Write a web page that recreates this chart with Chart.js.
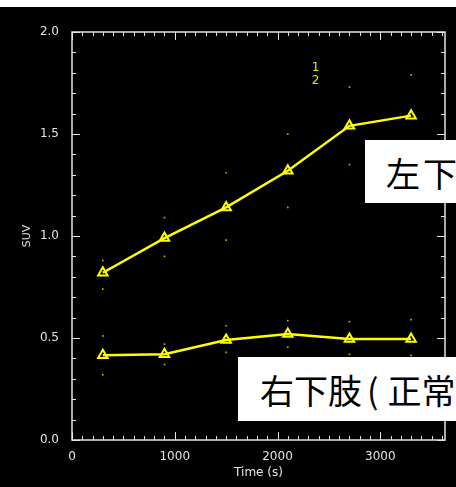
<!DOCTYPE html>
<html>
<head>
<meta charset="utf-8">
<script src="https://cdn.jsdelivr.net/npm/chart.js@4"></script>
<style>
  html, body { margin: 0; padding: 0; overflow: hidden; background: #fff; }
  #wrap { position: relative; width: 456px; height: 487px; }
  .note {
    position: absolute; background: #fff; color: #000;
    font-family: "Noto Sans CJK JP", sans-serif; font-size: 34px;
    white-space: nowrap; overflow: hidden; line-height: 1;
  }
</style>
</head>
<body>
<div id="wrap">
  <canvas id="suv-chart" width="456" height="487"></canvas>
  <div class="note" style="left:365px; top:140px; width:91px; height:63px;">
    <span style="position:absolute; left:21px; top:16px; letter-spacing:3px;">左下肢</span>
  </div>
  <div class="note" style="left:238px; top:357px; width:218px; height:64px;">
    <span style="position:absolute; left:22px; top:16px;">右下肢<span style="margin:0 9px 0 5px;">(</span>正常)</span>
  </div>
</div>
<script>
// Time points (s)
const times = [300, 900, 1500, 2100, 2700, 3300];

// Curve 1 (upper) and its error marks
const curve1 = [0.82, 0.99, 1.14, 1.32, 1.54, 1.59];
const curve1Hi = [0.88, 1.09, 1.31, 1.50, 1.73, 1.79];
const curve1Lo = [0.74, 0.90, 0.98, 1.14, 1.35, 1.39];

// Curve 2 (lower) and its error marks
const curve2 = [0.415, 0.42, 0.49, 0.52, 0.495, 0.495];
const curve2Hi = [0.51, 0.47, 0.56, 0.585, 0.58, 0.59];
const curve2Lo = [0.32, 0.37, 0.43, 0.455, 0.42, 0.415];

// Axis settings
const xTickLabels = [0, 1000, 2000, 3000];
const xMax = 3630;
const yTickLabels = [0, 0.5, 1.0, 1.5, 2.0];

// Small legend numbers
const legendText = ["1", "2"];
const legendX = 2370;
const legendY = [1.825, 1.76];

const AXIS = "#e4e4e4";
const YELLOW = "#ffff00";
const DOT = "#b4b400";

const toPoints = (xs, ys) => xs.map((x, i) => ({ x: x, y: ys[i] }));

// Draws the IDL-style box with inward ticks, plus the legend numbers
const idlFrame = {
  id: "idlFrame",
  beforeDraw(chart) {
    const ctx = chart.ctx;
    ctx.save();
    ctx.fillStyle = "#ffffff";
    ctx.fillRect(0, 0, chart.width, chart.height);
    ctx.fillStyle = "#000000";
    ctx.fillRect(0, 7, chart.width, chart.height - 7);
    ctx.restore();
  },
  beforeDatasetsDraw(chart) {
    const ctx = chart.ctx;
    const a = chart.chartArea;
    const xs = chart.scales.x;
    const ys = chart.scales.y;
    ctx.save();
    ctx.strokeStyle = AXIS;
    ctx.lineWidth = 1.5;
    ctx.strokeRect(a.left, a.top, a.right - a.left, a.bottom - a.top);

    ctx.lineWidth = 1;
    ctx.beginPath();
    for (let i = 0; i * 100 <= xMax; i++) {
      const v = i * 100;
      const px = Math.round(xs.getPixelForValue(v)) + 0.5;
      const len = v % 1000 === 0 ? 8 : 4;
      ctx.moveTo(px, a.bottom);
      ctx.lineTo(px, a.bottom - len);
      ctx.moveTo(px, a.top);
      ctx.lineTo(px, a.top + len);
    }
    for (let i = 0; i <= 20; i++) {
      const py = Math.round(ys.getPixelForValue(i / 10)) + 0.5;
      const len = i % 5 === 0 ? 8 : 4;
      ctx.moveTo(a.left, py);
      ctx.lineTo(a.left + len, py);
      ctx.moveTo(a.right, py);
      ctx.lineTo(a.right - len, py);
    }
    ctx.stroke();

    ctx.fillStyle = "#e6e600";
    ctx.font = "12px 'DejaVu Sans'";
    ctx.textAlign = "center";
    ctx.textBaseline = "middle";
    legendText.forEach((t, i) => {
      ctx.fillText(t, xs.getPixelForValue(legendX), ys.getPixelForValue(legendY[i]));
    });
    ctx.restore();
  },
};

const lineStyle = {
  borderColor: YELLOW,
  borderWidth: 2.5,
  tension: 0,
  pointStyle: "triangle",
  pointRadius: 5.5,
  pointBorderWidth: 2,
  pointBorderColor: YELLOW,
  pointBackgroundColor: "rgba(0,0,0,0)",
  fill: false,
};

const dotStyle = {
  showLine: false,
  pointStyle: "rect",
  pointRadius: 1.2,
  pointBorderWidth: 0,
  pointBackgroundColor: DOT,
};

const ctx = document.getElementById("suv-chart").getContext("2d");
new Chart(ctx, {
  type: "line",
  data: {
    datasets: [
      Object.assign({ data: toPoints(times, curve1Hi) }, dotStyle),
      Object.assign({ data: toPoints(times, curve1Lo) }, dotStyle),
      Object.assign({ data: toPoints(times, curve2Hi) }, dotStyle),
      Object.assign({ data: toPoints(times, curve2Lo) }, dotStyle),
      Object.assign({ data: toPoints(times, curve1) }, lineStyle),
      Object.assign({ data: toPoints(times, curve2) }, lineStyle),
    ],
  },
  options: {
    responsive: false,
    animation: false,
    devicePixelRatio: 1,
    layout: { padding: { top: 32, right: 11, left: 0, bottom: 0 } },
    plugins: {
      legend: { display: false },
      tooltip: { enabled: false },
    },
    scales: {
      x: {
        type: "linear",
        min: 0,
        max: xMax,
        grid: { display: false },
        border: { display: false },
        afterBuildTicks: (s) => {
          s.ticks = xTickLabels.map((v) => ({ value: v }));
        },
        afterFit: (s) => {
          s.height = 47;
        },
        ticks: {
          color: AXIS,
          font: { family: "DejaVu Sans", size: 12 },
          padding: 2,
          maxRotation: 0,
          callback: (v) => String(v),
        },
        title: {
          display: true,
          text: "Time (s)",
          color: AXIS,
          font: { family: "DejaVu Sans", size: 12 },
          padding: { top: 0, bottom: 7 },
        },
      },
      y: {
        min: 0,
        max: 2,
        grid: { display: false },
        border: { display: false },
        afterBuildTicks: (s) => {
          s.ticks = yTickLabels.map((v) => ({ value: v }));
        },
        afterFit: (s) => {
          s.width = 72;
        },
        ticks: {
          color: AXIS,
          font: { family: "DejaVu Sans", size: 12 },
          padding: 5,
          callback: (v) => Number(v).toFixed(1),
        },
        title: {
          display: true,
          text: "SUV",
          color: AXIS,
          font: { family: "DejaVu Sans", size: 11 },
          padding: { top: 21, bottom: 0 },
        },
      },
    },
  },
  plugins: [idlFrame],
});
</script>
</body>
</html>
